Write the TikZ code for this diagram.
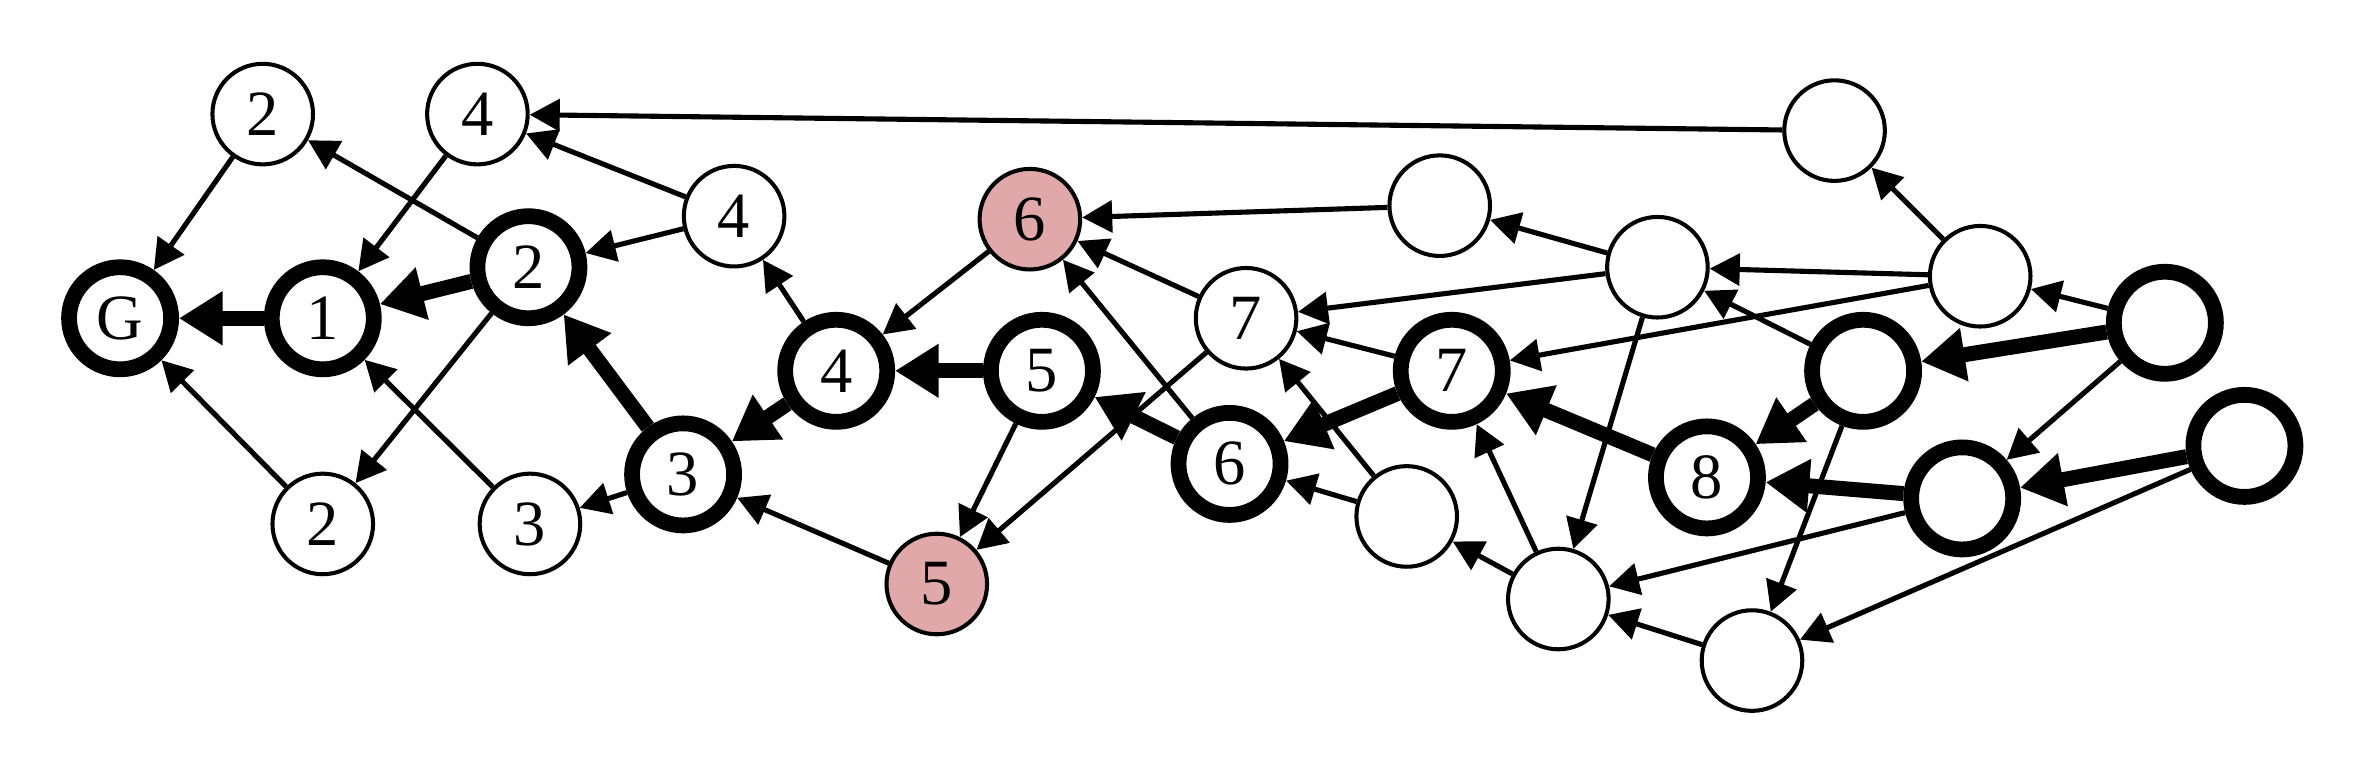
\documentclass[tikz,border=0pt]{standalone}
\usepackage{fontspec}
\setmainfont{Liberation Serif}
\usetikzlibrary{arrows.meta}
\definecolor{pinkfill}{HTML}{E0A8A8}
\begin{document}
\begin{tikzpicture}[x=1pt,y=-1pt,
  thinnode/.style={circle,draw,line width=2.7pt,minimum size=67pt,inner sep=0pt,fill=white,font=\fontsize{43}{43}\selectfont},
  thicknode/.style={circle,draw,line width=10.5pt,minimum size=68pt,inner sep=0pt,fill=white,font=\fontsize{43}{43}\selectfont},
  pinknode/.style={thinnode,fill=pinkfill},
  te/.style={line width=3.4pt,-{Triangle[length=20pt,width=21pt]}},
  ke/.style={line width=10pt,-{Triangle[length=29pt,width=34pt]}},
]
\useasboundingbox (0,0) rectangle (1568,505);
% nodes
\node[thicknode] (G) at (80,212) {G};
\node[thicknode] (n1) at (215,212) {1};
\node[thinnode] (t2) at (175,76) {2};
\node[thinnode] (t4) at (318,76) {4};
\node[thicknode] (k2) at (352,178) {2};
\node[thinnode] (a4) at (489,144) {4};
\node[thinnode] (b2) at (215,349) {2};
\node[thinnode] (b3) at (353,349) {3};
\node[thicknode] (k3) at (455,316) {3};
\node[thicknode] (k4) at (557,247) {4};
\node[pinknode] (p6) at (686,146) {6};
\node[thicknode] (k5) at (694,247) {5};
\node[pinknode] (p5) at (624,389) {5};
\node[thinnode] (s7) at (830,212) {7};
\node[thicknode] (k6) at (819,309) {6};
\node[thicknode] (k7) at (967,247) {7};
\node[thinnode] (A) at (959,137) {};
\node[thinnode] (B) at (1104,178) {};
\node[thinnode] (C) at (1222,87) {};
\node[thinnode] (D) at (1319,184) {};
\node[thicknode] (E) at (1442,215) {};
\node[thicknode] (F) at (1241,247) {};
\node[thicknode] (k8) at (1137,318) {8};
\node[thicknode] (H) at (1307,332) {};
\node[thicknode] (I) at (1495,297) {};
\node[thinnode] (J) at (937,344) {};
\node[thinnode] (K) at (1038,399) {};
\node[thinnode] (L) at (1167,440) {};
% thin edges
\draw[te] (t2) -- (G);
\draw[te] (t4) -- (n1);
\draw[te] (k2) -- (t2);
\draw[te] (a4) -- (k2);
\draw[te] (a4) -- (t4);
\draw[te] (k2) -- (b2);
\draw[te] (b2) -- (G);
\draw[te] (b3) -- (n1);
\draw[te] (k3) -- (b3);
\draw[te] (k4) -- (a4);
\draw[te] (p6) -- (k4);
\draw[te] (k5) -- (p5);
\draw[te] (p5) -- (k3);
\draw[te] (s7) -- (p5);
\draw[te] (s7) -- (p6);
\draw[te] (k6) -- (p6);
\draw[te] (k7) -- (s7);
\draw[te] (A) -- (p6);
\draw[te] (B) -- (A);
\draw[te] (B) -- (s7);
\draw[te] (B) -- (K);
\draw[te] (C) -- (t4);
\draw[te] (D) -- (C);
\draw[te] (D) -- (B);
\draw[te] (D) -- (k7);
\draw[te] (F) -- (B);
\draw[te] (E) -- (D);
\draw[te] (E) -- (H);
\draw[te] (F) -- (L);
\draw[te] (K) -- (k7);
\draw[te] (J) -- (s7);
\draw[te] (K) -- (J);
\draw[te] (L) -- (K);
\draw[te] (H) -- (K);
\draw[te] (I) -- (L);
\draw[te] (J) -- (k6);
% thick edges
\draw[ke] (n1) -- (G);
\draw[ke] (k2) -- (n1);
\draw[ke] (k3) -- (k2);
\draw[ke] (k4) -- (k3);
\draw[ke] (k5) -- (k4);
\draw[ke] (k6) -- (k5);
\draw[ke] (k7) -- (k6);
\draw[ke] (k8) -- (k7);
\draw[ke] (F) -- (k8);
\draw[ke] (H) -- (k8);
\draw[ke] (E) -- (F);
\draw[ke] (I) -- (H);
\end{tikzpicture}
\end{document}
